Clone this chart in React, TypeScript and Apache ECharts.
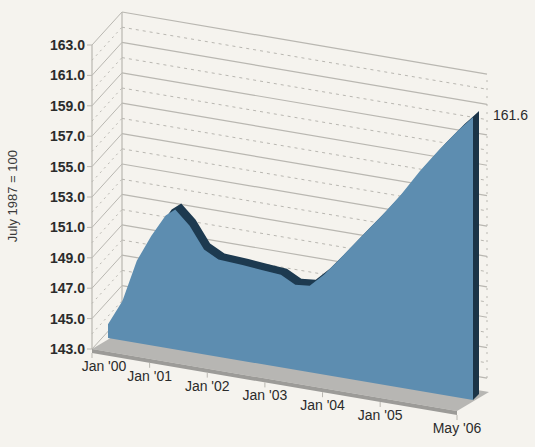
import * as echarts from "echarts";
import { useEffect, useRef } from "react";

// months since Jan 2000 and index values (July 1987 = 100)
const months = [0, 3, 6, 9, 12, 14, 17, 20, 23, 28, 32, 36, 39, 42, 45, 48, 53, 57, 61, 65, 69, 73, 76];
const values = [143.9, 145.6, 148.4, 150.2, 151.7, 152.2, 151.3, 149.9, 149.4, 149.3, 149.2, 149.1, 148.6, 148.7, 149.6, 150.7, 152.6, 154.1, 155.7, 157.5, 159.1, 160.6, 161.6];
const tickMonths = [0, 12, 24, 36, 48, 60, 76];
const tickLabels = ["Jan '00", "Jan '01", "Jan '02", "Jan '03", "Jan '04", "Jan '05", "May '06"];
const yTicks = [143, 145, 147, 149, 151, 153, 155, 157, 159, 161, 163];
const endLabel = "161.6";

const SHEAR = 0.17;
const FRONT = [-16, 11];
const BACK = [14, -22];
const DEPTH = [6, -6];
const FONT = "'Liberation Sans Narrow', 'Liberation Sans', sans-serif";

export default function App() {
    const ref = useRef<HTMLDivElement | null>(null);

    useEffect(() => {
        if (!ref.current) return;
        document.body.style.margin = "0";
        const chart = echarts.init(ref.current, null, { renderer: "svg" });

        const renderItem = (_params: any, api: any) => {
            const x0 = api.coord([0, 143])[0];
            const A = (m: number, v: number, off = [0, 0]) => {
                const p = api.coord([m, v]);
                return [p[0] + off[0], p[1] + SHEAR * (p[0] - x0) + off[1]];
            };
            const children: any[] = [];
            const grid = "#b9b7b1";

            // back wall
            for (let v = 143; v <= 163; v++) {
                const odd = v % 2 === 1;
                children.push({
                    type: "line",
                    shape: { x1: A(0, v, BACK)[0], y1: A(0, v, BACK)[1], x2: A(76, v, BACK)[0], y2: A(76, v, BACK)[1] },
                    style: { stroke: grid, lineWidth: odd ? 1.2 : 1, lineDash: odd ? null : [3, 4] },
                });
                children.push({
                    type: "line",
                    shape: { x1: A(0, v, FRONT)[0], y1: A(0, v, FRONT)[1], x2: A(0, v, BACK)[0], y2: A(0, v, BACK)[1] },
                    style: { stroke: grid, lineWidth: 1, lineDash: odd ? null : [2, 4] },
                });
            }
            children.push({
                type: "line",
                shape: { x1: A(0, 143, BACK)[0], y1: A(0, 143, BACK)[1], x2: A(0, 163, BACK)[0], y2: A(0, 163, BACK)[1] },
                style: { stroke: grid, lineWidth: 1.2 },
            });
            children.push({
                type: "line",
                shape: { x1: A(76, 143, BACK)[0], y1: A(76, 143, BACK)[1], x2: A(76, 163, BACK)[0], y2: A(76, 163, BACK)[1] },
                style: { stroke: grid, lineWidth: 1, lineDash: [2, 6] },
            });
            // front axis
            children.push({
                type: "line",
                shape: { x1: A(0, 143, FRONT)[0], y1: A(0, 143, FRONT)[1], x2: A(0, 163, FRONT)[0], y2: A(0, 163, FRONT)[1] },
                style: { stroke: grid, lineWidth: 1.2 },
            });
            yTicks.forEach((v) => {
                const p = A(0, v, FRONT);
                children.push({ type: "line", shape: { x1: p[0] - 5, y1: p[1], x2: p[0], y2: p[1] }, style: { stroke: grid, lineWidth: 1 } });
                children.push({
                    type: "text",
                    x: p[0] - 7, y: p[1],
                    style: { text: v.toFixed(1), align: "right", verticalAlign: "middle", fill: "#2b2b2b", font: `bold 14px ${FONT}` },
                });
            });

            // floor slab
            const fl = [A(0, 143, FRONT), A(76, 143, FRONT), A(76, 143, [DEPTH[0] + 10, DEPTH[1] - 2]), A(0, 143, [DEPTH[0] + 10, DEPTH[1] - 2])];
            children.push({ type: "polygon", shape: { points: fl }, style: { fill: "#b7b6b3" } });
            const fl2 = [A(0, 143, FRONT), A(76, 143, FRONT), A(76, 143, [FRONT[0], FRONT[1] + 4]), A(0, 143, [FRONT[0], FRONT[1] + 4])];
            children.push({ type: "polygon", shape: { points: fl2 }, style: { fill: "#9c9b98" } });

            // area: dark extrusion then front face
            const pts = (off: number[]) => [
                ...months.map((m, i) => A(m, values[i], off)),
                A(76, 143, off),
                A(0, 143, off),
            ];
            children.push({ type: "polygon", shape: { points: pts(DEPTH) }, style: { fill: "#1d3a50" } });
            const joins = [A(76, values[values.length - 1]), A(76, values[values.length - 1], DEPTH), A(76, 143, DEPTH), A(76, 143)];
            children.push({ type: "polygon", shape: { points: joins }, style: { fill: "#1b3447" } });
            children.push({ type: "polygon", shape: { points: pts([0, 0]) }, style: { fill: "#5d8db0" } });

            // x tick labels
            tickMonths.forEach((m, i) => {
                const p = A(m, 143, FRONT);
                children.push({ type: "line", shape: { x1: p[0], y1: p[1] + 4, x2: p[0], y2: p[1] + 9 }, style: { stroke: grid, lineWidth: 1 } });
                children.push({
                    type: "text",
                    x: p[0] + (i === 0 ? 12 : 0), y: p[1] + 10,
                    style: { text: tickLabels[i], align: "center", verticalAlign: "top", fill: "#2b2b2b", font: `14px ${FONT}` },
                });
            });

            const e = A(76, values[values.length - 1], BACK);
            children.push({
                type: "text",
                x: e[0] + 6, y: e[1] + 20,
                style: { text: endLabel, align: "left", verticalAlign: "middle", fill: "#2b2b2b", font: `14px ${FONT}` },
            });

            return { type: "group", children };
        };

        chart.setOption({
            animation: false,
            backgroundColor: "#f5f3ee",
            grid: { left: 108, right: 62, top: 34, bottom: 109 },
            xAxis: { type: "value", min: 0, max: 76, show: false },
            yAxis: { type: "value", min: 143, max: 163, show: false },
            graphic: [
                {
                    type: "text",
                    left: 6, top: 150, rotation: Math.PI / 2,
                    style: { text: "July 1987 = 100", fill: "#3a3a3a", font: `13px ${FONT}` },
                },
            ],
            series: [
                {
                    type: "custom",
                    renderItem,
                    data: [[0, 143]],
                    clip: false,
                },
            ],
        });

        return () => chart.dispose();
    }, []);

    return <div ref={ref} style={{ width: 535, height: 447 }} />;
}
